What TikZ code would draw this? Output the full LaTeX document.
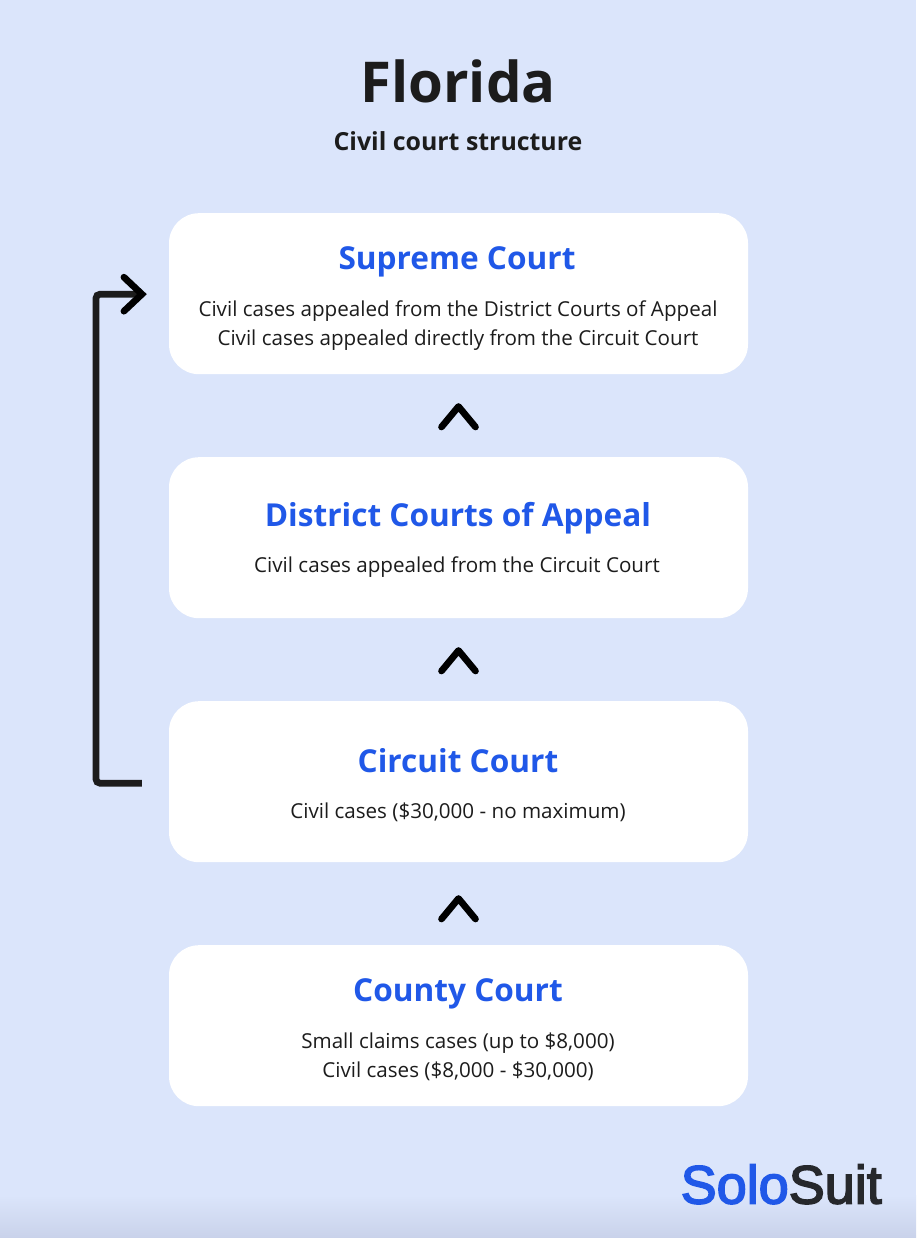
\documentclass[tikz,border=0pt]{standalone}
\usepackage{fontspec}
\setmainfont{Open Sans}
\newfontfamily\logofont[FakeBold=3]{Liberation Sans}
\usetikzlibrary{calc,positioning,arrows.meta}
\definecolor{pagebg}{HTML}{DBE5FB}
\definecolor{pagelow}{HTML}{C9D2EA}
\definecolor{courtblue}{HTML}{2058E8}
\definecolor{inkdark}{HTML}{1C1C1C}
\definecolor{logodark}{HTML}{26282C}

\begin{document}
\begin{tikzpicture}[
x=1pt, y=-1pt,
court/.style={
	rectangle, fill=white, rounded corners=30pt,
	minimum width=579pt, minimum height=161pt,
	inner sep=0pt, anchor=north
},
heading/.style={
	font=\fontsize{31.6}{38}\selectfont\bfseries,
	text=courtblue, anchor=base, inner sep=0pt
},
detail/.style={
	font=\fontsize{20.6}{29}\selectfont,
	text=inkdark, align=center, anchor=base, inner sep=0pt
},
chevron/.style={
	line width=6.7pt, line cap=round, line join=round, black
},
jump/.style={
	line width=6.7pt, inkdark, rounded corners=4pt,
	-{Straight Barb[length=18pt,width=34pt,line width=6.7pt,line cap=round,black]}
}
]
\useasboundingbox (0,0) rectangle (916,1238);
\fill[pagebg] (0,0) rectangle (916,1238);
\shade[top color=pagebg, bottom color=pagelow] (0,1195) rectangle (916,1238);

% title
\node[font=\fontsize{56.3}{68}\selectfont\bfseries, text=inkdark, anchor=base, inner sep=0pt] (title) at (458,103) {Florida};
\node[font=\fontsize{24.9}{29}\selectfont\bfseries, text=inkdark, anchor=base, inner sep=0pt] (subtitle) at (458,151) {Civil court structure};

% courts
\node[court] (supreme) at (458.5,213) {};
\node[court] (district) at (458.5,457) {};
\node[court] (circuit) at (458.5,701) {};
\node[court] (county) at (458.5,945) {};

\node[heading] (supremeT) at (457,270) {Supreme Court};
\node[detail] (supremeD) at (458,345) {Civil cases appealed from the District Courts of Appeal\\Civil cases appealed directly from the Circuit Court};
\node[heading] (districtT) at (458,526) {District Courts of Appeal};
\node[detail] (districtD) at (457,572) {Civil cases appealed from the Circuit Court};
\node[heading] (circuitT) at (458,772) {Circuit Court};
\node[detail] (circuitD) at (458,818) {Civil cases (\$30,000 - no maximum)};
\node[heading] (countyT) at (458,1001) {County Court};
\node[detail] (countyD) at (458,1077) {Small claims cases (up to \$8,000)\\Civil cases (\$8,000 - \$30,000)};

% steps up
\foreach \low/\gap in {district/50.5,circuit/50.5,county/46.5}
{
	\coordinate (tip) at ($(\low.north)+(0,-\gap)$);
	\draw[chevron] ($(tip)+(-17,20.5)$) -- (tip) -- ($(tip)+(17,20.5)$);
}

% direct appeal
\coordinate (leave) at ($(circuit.west)+(-27,1.5)$);
\coordinate (enter) at ($(supreme.west)+(-22,0.5)$);
\draw[jump] (leave) -- (leave -| 96,0) -- (enter -| 96,0) -- (enter);

% logo
\node[font=\fontsize{54}{60}\selectfont\logofont, anchor=base east, inner sep=0pt] (logo) at (882,1203.5) {\textcolor{courtblue}{Solo}\textcolor{logodark}{Suit}};
\end{tikzpicture}
\end{document}
